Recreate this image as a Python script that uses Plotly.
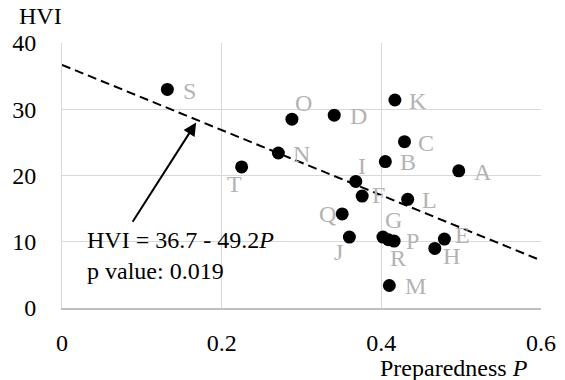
import plotly.graph_objects as go

# ---- data ----
names = ["A","B","C","D","E","F","G","H","I","J","K","L","M","N","O","P","Q","R","S","T"]
preparedness = [0.497,0.405,0.429,0.341,0.479,0.376,0.402,0.467,0.368,0.360,
                0.417,0.433,0.410,0.271,0.288,0.416,0.351,0.409,0.132,0.225]
hvi = [20.7,22.1,25.1,29.1,10.4,16.9,10.7,9.0,19.1,10.7,
       31.4,16.4,3.4,23.4,28.5,10.1,14.2,10.3,33.0,21.3]
intercept = 36.7
slope = -49.2
p_value = "0.019"
x_ticks = [0, 0.2, 0.4, 0.6]
x_tick_labels = ["0", "0.2", "0.4", "0.6"]
y_ticks = [0, 10, 20, 30, 40]
y_tick_labels = ["0", "10", "20", "30", "40"]

# ---- label placement (pixel offsets, style only) ----
label_dx = {"A":24,"B":23,"C":22,"D":24,"E":18,"F":16,"G":11,"H":17,"I":6,"J":-11,
            "K":23,"L":22,"M":26,"N":23,"O":12,"P":18,"Q":-15,"R":9,"S":22,"T":-7}
label_dy = {"A":1,"B":0,"C":1,"D":1,"E":-4,"F":-1,"G":-17,"H":8,"I":-15,"J":15,
            "K":1,"L":1,"M":1,"N":1,"O":-16,"P":0,"Q":0,"R":18,"S":2,"T":17}

FONT = "Times New Roman, Liberation Serif, serif"
FS = 24
fig = go.Figure()

# trend line
x_line = [0, 0.6]
y_line = [intercept + slope * v for v in x_line]
fig.add_trace(go.Scatter(x=x_line, y=y_line, mode="lines",
                         line=dict(color="black", width=2, dash="9px,5px"),
                         hoverinfo="skip", showlegend=False))

# points
fig.add_trace(go.Scatter(x=preparedness, y=hvi, mode="markers",
                         marker=dict(color="black", size=13),
                         text=names, showlegend=False))

annotations = []
for n, xv, yv in zip(names, preparedness, hvi):
    annotations.append(dict(x=xv, y=yv, xref="x", yref="y", text=n, showarrow=False,
                            xanchor="center", yanchor="middle",
                            xshift=label_dx[n], yshift=-label_dy[n],
                            font=dict(family=FONT, size=FS, color="#b3b3b3")))

# arrow
annotations.append(dict(x=0.168, y=28.0, ax=0.0873, ay=12.8, xref="x", yref="y",
                        axref="x", ayref="y", text="", showarrow=True,
                        arrowhead=2, arrowsize=1.3, arrowwidth=2, arrowcolor="black"))
# equation text
annotations.append(dict(x=0.0288, y=8.0, xref="x", yref="y", xanchor="left", yanchor="middle",
                        align="left", showarrow=False,
                        text=f"HVI = {intercept} - {abs(slope)}<i>P</i><br>p value: {p_value}",
                        font=dict(family=FONT, size=FS, color="black")))
# axis titles
annotations.append(dict(x=-0.094, y=1.103, xref="paper", yref="paper", xanchor="left",
                        yanchor="middle", showarrow=False, text="HVI",
                        font=dict(family=FONT, size=FS, color="black")))
annotations.append(dict(x=0.977, y=-0.228, xref="paper", yref="paper", xanchor="right",
                        yanchor="middle", showarrow=False, text="Preparedness <i>P</i>",
                        font=dict(family=FONT, size=FS, color="black")))

fig.update_layout(
    width=565, height=380,
    margin=dict(l=62, r=24, t=43, b=72, autoexpand=False),
    plot_bgcolor="white", paper_bgcolor="white",
    font=dict(family=FONT, size=FS, color="black"),
    annotations=annotations,
    xaxis=dict(range=[0, 0.6], tickvals=x_ticks, ticktext=x_tick_labels,
               showgrid=True, gridcolor="#d9d9d9", gridwidth=1,
               showline=True, linecolor="#bfbfbf", linewidth=2,
               zeroline=False, ticks="", ticklabelstandoff=12, automargin=False,
               tickfont=dict(family=FONT, size=FS, color="black")),
    yaxis=dict(range=[0, 40], tickvals=y_ticks, ticktext=y_tick_labels,
               showgrid=True, gridcolor="#d9d9d9", gridwidth=1,
               showline=True, linecolor="#d9d9d9", linewidth=1,
               zeroline=False, ticks="", ticklabelstandoff=20, automargin=False,
               tickfont=dict(family=FONT, size=FS, color="black")),
)

fig.write_html("out.html", config={"displayModeBar": False},
               post_script="document.body.style.margin='0';document.body.style.padding='0';")
